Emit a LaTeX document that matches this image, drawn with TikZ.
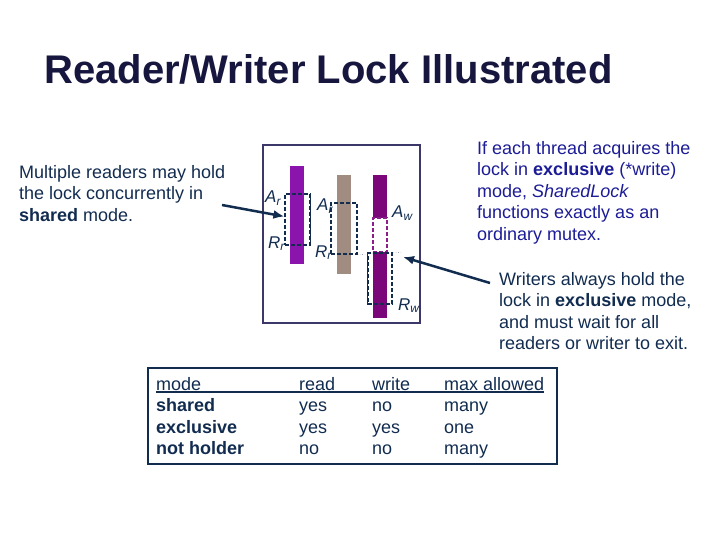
\documentclass[tikz,border=0pt]{standalone}
\usepackage{fontspec}
\setmainfont{Liberation Sans}
\usetikzlibrary{arrows.meta}

\definecolor{titleblue}{RGB}{22,22,62}
\definecolor{textnavy}{RGB}{18,44,80}
\definecolor{noteblue}{RGB}{28,28,150}
\definecolor{framecol}{RGB}{60,55,105}
\definecolor{readbar}{RGB}{138,20,172}
\definecolor{waitbar}{RGB}{160,140,128}
\definecolor{writebar}{RGB}{122,6,122}
\definecolor{gapcol}{RGB}{140,30,140}

\begin{document}
\begin{tikzpicture}[x=1pt,y=-1pt,
			note/.style={
				inner sep=0pt,
				anchor=north west,
				align=left,
				text=textnavy,
				font=\fontsize{18}{21.5}\selectfont
			},
			lbl/.style={
				inner sep=0pt,
				anchor=base west,
				text=textnavy,
				font=\fontsize{17}{20}\selectfont\itshape
			},
			hold/.style={draw=textnavy,dash pattern=on 4pt off 2pt,line width=1.2pt,inner sep=0pt},
			pointer/.style={-{Latex[length=11pt,width=9pt]},draw=textnavy,line width=2.5pt}]
			
			\useasboundingbox (0,0) rectangle (720,540);
			
			\node[inner sep=0pt,anchor=base west,text=titleblue,font=\fontsize{40}{48}\selectfont\bfseries] (title) at (44,84){Reader/Writer Lock Illustrated};
			
			\node[note] (shared) at (19,163){\strut Multiple readers may hold\\the lock concurrently in\\\textbf{shared} mode.};
			
			\node[note,text=noteblue] (mutex) at (477,139){\strut If each thread acquires the\\lock in \textbf{exclusive} (*write)\\mode, \textit{SharedLock}\\functions exactly as an\\ordinary mutex.};
			
			\node[note] (writers) at (499,270){\strut Writers always hold the\\lock in \textbf{exclusive} mode,\\and must wait for all\\readers or writer to exit.};
			
			\draw[framecol,line width=2pt] (263,145) rectangle (420,323);
			
			\fill[readbar] (290,166) rectangle (304,264);
			\fill[waitbar] (337,175) rectangle (351,274);
			\fill[writebar] (373,175) rectangle (387,318);
			
			\node[hold,minimum width=25pt,minimum height=51pt] (rbox1) at (297.5,219.5){};
			\node[hold,minimum width=26pt,minimum height=51pt] (rbox2) at (344,228.5){};
			\node[draw=gapcol,fill=white,dash pattern=on 4pt off 2pt,line width=1.2pt,inner sep=0pt,minimum width=14pt,minimum height=34pt] (wgap) at (380,235){};
			\node[hold,minimum width=24pt,minimum height=51pt] (wbox) at (380,278.5){};
			
			\draw[textnavy,line width=1.2pt] (rbox1.north east)--(rbox1.south east);
			\draw[textnavy,line width=1.2pt] (wbox.north west)--(wbox.south west);
			\draw[textnavy,dotted] (rbox2.south east)--([xshift=10pt]wbox.north east);
			
			\node[lbl] (ar1) at (265,203){A\textsubscript{r}};
			\node[lbl] (rr1) at (268,248){R\textsubscript{r}};
			\node[lbl] (ar2) at (317,211){A\textsubscript{r}};
			\node[lbl] (rr2) at (315,257){R\textsubscript{r}};
			\node[lbl] (aw) at (392,218){A\textsubscript{w}};
			\node[lbl] (rw) at (398,310){R\textsubscript{w}};
			
			\coordinate (readtail) at (222,205);
			\coordinate (wtip) at (403,257);
			
			\draw[pointer] (readtail)--([yshift=3pt]rbox1.west);
			\draw[pointer] ([xshift=-9pt,yshift=-13pt]writers.north west)--(wtip);
			
			\draw[textnavy,line width=1.5pt] (148,368) rectangle (557,464);
			
			\node[note] (colmode) at (156,375){\strut mode\\\textbf{shared}\\\textbf{exclusive}\\\textbf{not holder}};
			\node[note] (colread) at (299,375){\strut read\\yes\\yes\\no};
			\node[note] (colwrite) at (372,375){\strut write\\no\\yes\\no};
			\node[note] (colmax) at (444,375){\strut max allowed\\many\\one\\many};
			
			\draw[textnavy,line width=1.5pt] ([yshift=-17pt]colmode.north west)--([yshift=-17pt]colmax.north east);
			
		\end{tikzpicture}
\end{document}
